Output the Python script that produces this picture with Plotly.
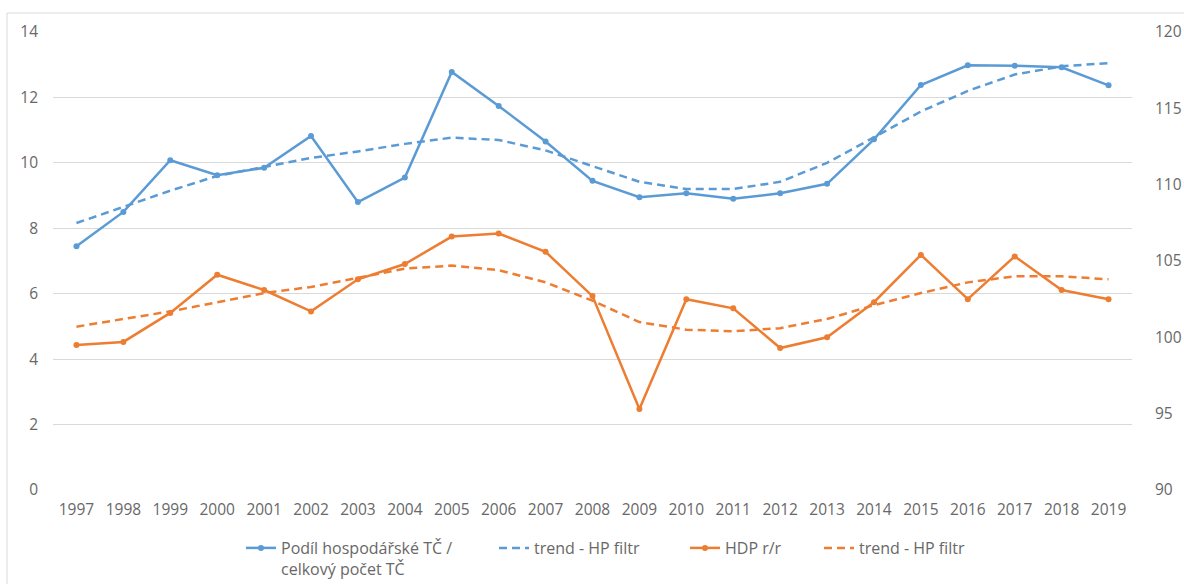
import plotly.graph_objects as go

# Years on the category axis
years = [str(y) for y in range(1997, 2020)]

# Share of business-sector TČ in total TČ count (left axis, %)
podil = [7.45, 8.5, 10.08, 9.62, 9.85, 10.82, 8.8, 9.55, 12.78, 11.74, 10.65,
         9.45, 8.95, 9.07, 8.9, 9.07, 9.36, 10.72, 12.38, 12.98, 12.97, 12.92, 12.37]
# HP-filter trend of the share
podil_trend = [8.16, 8.65, 9.15, 9.6, 9.87, 10.15, 10.35, 10.58, 10.77, 10.7, 10.38,
               9.9, 9.42, 9.2, 9.2, 9.42, 10.0, 10.78, 11.57, 12.2, 12.7, 12.95, 13.05]

# GDP year-on-year index (right axis, previous year = 100)
hdp = [99.5, 99.7, 101.6, 104.1, 103.1, 101.7, 103.8, 104.8, 106.6, 106.8, 105.6,
       102.7, 95.3, 102.5, 101.9, 99.3, 100.0, 102.3, 105.4, 102.5, 105.3, 103.1, 102.5]
# HP-filter trend of GDP
hdp_trend = [100.7, 101.2, 101.7, 102.3, 102.9, 103.3, 103.9, 104.5, 104.7, 104.4, 103.6,
             102.4, 101.0, 100.5, 100.4, 100.6, 101.2, 102.1, 102.9, 103.6, 104.0, 104.0, 103.8]

BLUE = "#5B9BD5"
ORANGE = "#ED7D31"
TEXT = "#686868"
GRID = "#d9d9d9"
FONT = "Open Sans"
TICK_SIZE = 15.5
LEGEND_SIZE = 16

# plot area in pixels: x 53..1132, y 32..490
L, R, T, B = 53, 1132, 32, 490
W, H = R - L, B - T


def px(xp):
    return (xp - L) / W


def py(yp):
    return (B - yp) / H


fig = go.Figure()
fig.add_trace(go.Scatter(
    x=years, y=podil, name="Podíl hospodářské TČ /<br>celkový počet TČ",
    mode="lines+markers", line=dict(color=BLUE, width=2.5),
    marker=dict(size=6, color=BLUE), yaxis="y", legend="legend"))
fig.add_trace(go.Scatter(
    x=years, y=podil_trend, name="trend - HP filtr",
    mode="lines", line=dict(color=BLUE, width=2.5, dash="8px,5px"),
    yaxis="y", legend="legend2"))
fig.add_trace(go.Scatter(
    x=years, y=hdp, name="HDP r/r",
    mode="lines+markers", line=dict(color=ORANGE, width=2.5),
    marker=dict(size=6, color=ORANGE), yaxis="y2", legend="legend3"))
fig.add_trace(go.Scatter(
    x=years, y=hdp_trend, name="trend - HP filtr",
    mode="lines", line=dict(color=ORANGE, width=2.5, dash="8px,5px"),
    yaxis="y2", legend="legend4"))


def legend_at(x_left, y_top):
    return dict(orientation="h", x=px(x_left), xanchor="left",
                y=py(y_top), yanchor="top", valign="top",
                font=dict(family=FONT, size=LEGEND_SIZE, color=TEXT),
                bgcolor="rgba(0,0,0,0)", borderwidth=0)


LEG_TOP = 531
fig.update_layout(
    width=1184, height=584,
    margin=dict(l=L, r=1184 - R, t=T, b=584 - B, autoexpand=False),
    paper_bgcolor="white", plot_bgcolor="white",
    font=dict(family=FONT, size=TICK_SIZE, color=TEXT),
    showlegend=True,
    xaxis=dict(type="category", range=[-0.5, 22.5], showgrid=False,
               showline=False, ticks="", zeroline=False,
               ticklabelstandoff=8,
               tickfont=dict(size=TICK_SIZE, color=TEXT)),
    yaxis=dict(range=[0, 14], dtick=2, showgrid=True, gridcolor=GRID,
               gridwidth=1, zeroline=False, showline=False,
               ticklabelstandoff=14, tickfont=dict(size=TICK_SIZE, color=TEXT)),
    yaxis2=dict(range=[90, 120], dtick=5, overlaying="y", side="right",
                showgrid=False, zeroline=False, showline=False,
                ticklabelstandoff=22, tickfont=dict(size=TICK_SIZE, color=TEXT)),
    legend=legend_at(241, LEG_TOP),
    legend2=legend_at(494, LEG_TOP),
    legend3=legend_at(685, LEG_TOP),
    legend4=legend_at(819, LEG_TOP),
    shapes=[dict(type="rect", xref="paper", yref="paper",
                 x0=px(7), x1=px(1195), y0=py(600), y1=py(13),
                 line=dict(color=GRID, width=1), layer="below")],
)

fig.write_html("out.html")
